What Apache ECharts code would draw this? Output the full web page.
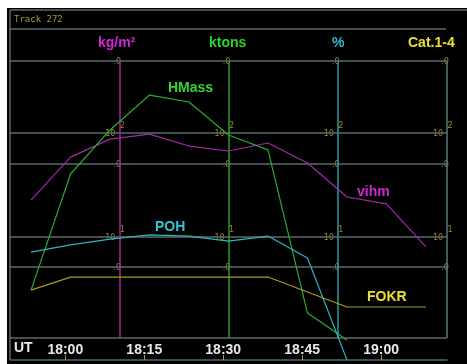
<!DOCTYPE html>
<html>
<head>
<meta charset="utf-8">
<script src="https://cdn.jsdelivr.net/npm/echarts@6/dist/echarts.min.js"></script>
<style>
  html, body { margin: 0; padding: 0; background: #fff; }
  #chart { width: 467px; height: 364px; }
</style>
</head>
<body>
<div id="chart"></div>
<script>
  // minutes after 18:00 UT
  const times = [-6.5, 1, 8.5, 16, 23.5, 31, 38.5, 46, 53.5, 61, 68.5];
  // relative display scale (0 = bottom of plot, 100 = top)
  const vihm = [49.8, 65.3, 71.8, 73.6, 69.3, 67.5, 70.4, 63.2, 50.9, 48.4, 32.9];
  const hmass = [17.3, 59.2, 75.1, 87.7, 85.2, 73.3, 67.9, 9.0, -0.7, null, null];
  const poh = [31.0, 33.6, 35.7, 37.2, 36.8, 35.0, 36.8, 28.9, -7.9, null, null];
  const fokr = [17.3, 22.0, 22.0, 22.0, 22.0, 22.0, 22.0, 16.6, 11.2, 11.2, 11.2];

  const tickValues = [0, 15, 30, 45, 60];
  const tickLabels = ['18:00', '18:15', '18:30', '18:45', '19:00'];
  const levels = [0, 25.6, 36.5, 62.8, 74, 100];
  const axisMarks = [10.25, 31, 51.75, 72.5];
  const unitNames = ['kg/m²', 'ktons', '%', 'Cat.1-4'];
  const scaleTexts = [[100, '.0'], [74, '10'], [74, '2'], [62.8, '.0'], [36.5, '10'], [36.5, '1'], [25.6, '.0']];

  const xMin = -10.5, xMax = 72.5;
  const grey = '#5b6b6b';
  const markColors = ['#9a2a9a', '#2a9a2a', '#2a9aa2', '#5a7a7a'];
  const unitColors = ['#d424d4', '#2ad42a', '#30bccc', '#eee030'];

  const pairs = vals => times.map((t, i) => [t, vals[i]]).filter(p => p[1] !== null);

  const chart = echarts.init(document.getElementById('chart'));

  const scaleData = [];
  axisMarks.forEach(x => {
    scaleTexts.forEach(([lvl, txt]) => {
      let offset = [-2, 1];
      if (txt === '10') offset = [-9, 1];
      if (txt === '2' || txt === '1') offset = [3, -7];
      scaleData.push({ value: [x, lvl], label: { formatter: txt, offset: offset } });
    });
  });

  const lineSeries = (name, vals, color) => ({
    name: name,
    type: 'line',
    data: pairs(vals),
    showSymbol: false,
    clip: false,
    z: 5,
    lineStyle: { color: color, width: 1.2 },
    itemStyle: { color: color }
  });

  chart.setOption({
    backgroundColor: '#fff',
    animation: false,
    grid: { left: 10, right: 20, top: 61, bottom: 26 },
    xAxis: [
      {
        type: 'value', min: xMin, max: xMax,
        axisLine: { show: false }, splitLine: { show: false }, axisTick: { show: false },
        axisLabel: {
          customValues: tickValues,
          formatter: v => tickLabels[tickValues.indexOf(v)] || '',
          color: '#e8e8e8', fontSize: 14, fontWeight: 'bold',
          fontFamily: 'Liberation Sans', margin: 5
        }
      },
      {
        type: 'value', min: xMin, max: xMax, position: 'bottom', offset: 22,
        splitLine: { show: false },
        axisLine: { show: true, lineStyle: { color: '#4a6a72', width: 1.5 } },
        axisTick: { show: true, inside: true, length: 5, customValues: tickValues, lineStyle: { color: '#b8a030' } },
        axisLabel: { show: false }
      }
    ],
    yAxis: { type: 'value', min: 0, max: 100, show: false, splitLine: { show: false } },
    graphic: [
      { type: 'rect', z: -10, silent: true, shape: { x: 7, y: 8, width: 460, height: 356 }, style: { fill: '#000' } },
      { type: 'line', z: -5, shape: { x1: 10, y1: 10, x2: 467, y2: 10 }, style: { stroke: grey, lineWidth: 1.5 } },
      { type: 'line', z: -5, shape: { x1: 10, y1: 29, x2: 446, y2: 29 }, style: { stroke: grey, lineWidth: 1.5 } },
      { type: 'line', z: -5, shape: { x1: 10, y1: 10, x2: 10, y2: 360 }, style: { stroke: grey, lineWidth: 1.5 } },
      { type: 'text', left: 14, top: 15, style: { text: 'Track 272', fill: '#a8983a', font: '9px "DejaVu Sans Mono"' } },
      { type: 'text', left: 14, top: 341, style: { text: 'UT', fill: '#e8e8e8', font: 'bold 14px "Liberation Sans"' } },
      { type: 'text', left: 98, top: 36, style: { text: unitNames[0], fill: unitColors[0], font: 'bold 14px "Liberation Sans"' } },
      { type: 'text', left: 209, top: 36, style: { text: unitNames[1], fill: unitColors[1], font: 'bold 14px "Liberation Sans"' } },
      { type: 'text', left: 332, top: 36, style: { text: unitNames[2], fill: unitColors[2], font: 'bold 14px "Liberation Sans"' } },
      { type: 'text', left: 408, top: 36, style: { text: unitNames[3], fill: unitColors[3], font: 'bold 14px "Liberation Sans"' } },
      { type: 'text', left: 168, top: 81, style: { text: 'HMass', fill: '#34d434', font: 'bold 14px "Liberation Sans"' } },
      { type: 'text', left: 357, top: 185, style: { text: 'vihm', fill: '#d028d0', font: 'bold 14px "Liberation Sans"' } },
      { type: 'text', left: 155, top: 220, style: { text: 'POH', fill: '#30c8d8', font: 'bold 14px "Liberation Sans"' } },
      { type: 'text', left: 367, top: 290, style: { text: 'FOKR', fill: '#ece030', font: 'bold 14px "Liberation Sans"' } }
    ],
    series: [
      {
        name: 'guides',
        type: 'line',
        data: [],
        z: 1,
        markLine: {
          silent: true,
          symbol: 'none',
          label: { show: false },
          animation: false,
          data: levels.map(l => ({ yAxis: l, lineStyle: { color: grey, width: 1.5, type: 'solid' } }))
            .concat(axisMarks.map((x, i) => ({ xAxis: x, lineStyle: { color: markColors[i], width: 1.5, type: 'solid' } })))
        }
      },
      {
        name: 'scale',
        type: 'scatter',
        symbolSize: 0,
        z: 3,
        data: scaleData,
        label: { show: true, position: 'inside', color: '#c0a838', fontSize: 8, fontFamily: 'DejaVu Sans' }
      },
      lineSeries('vihm', vihm, '#a42aa8'),
      lineSeries('HMass', hmass, '#2eaa2e'),
      lineSeries('POH', poh, '#30b4c4'),
      lineSeries('FOKR', fokr, '#aa9c22')
    ]
  });
</script>
</body>
</html>
